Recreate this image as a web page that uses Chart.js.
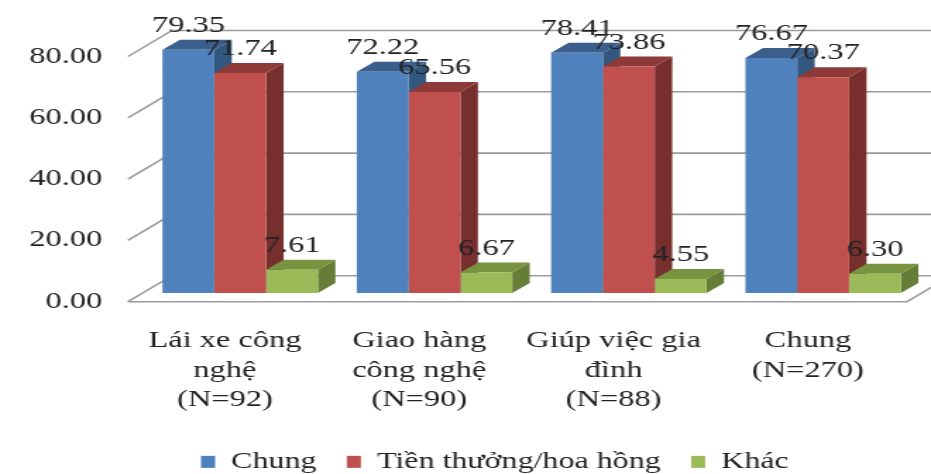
<!DOCTYPE html>
<html>
<head>
<meta charset="utf-8">
<title>Chart</title>
<script src="https://cdn.jsdelivr.net/npm/chart.js@4"></script>
<style>
  html, body { margin: 0; padding: 0; background: #fff; overflow: hidden; }
  /* the whole chart is drawn narrow and widened, so its type comes out broad */
  canvas { display: block; transform-origin: 0 0; transform: scaleX(1.4106); }
</style>
</head>
<body>
<canvas id="barChart3d" width="660" height="474"></canvas>
<script>
const categories = [
    ['Lái xe công', 'nghệ', '(N=92)'],
    ['Giao hàng', 'công nghệ', '(N=90)'],
    ['Giúp việc gia', 'đình', '(N=88)'],
    ['Chung', '(N=270)']
];
const chung = [79.35, 72.22, 78.41, 76.67];
const tienThuong = [71.74, 65.56, 73.86, 70.37];
const khac = [7.61, 6.67, 4.55, 6.30];
const tickValues = [0, 20, 40, 60, 80];

const FONT = '"Liberation Serif", serif';
const TEXT_COLOR = '#222';
const GRID_COLOR = '#9c9c9c';

const LEGEND_FONT = 22.7;
const LEGEND_PADDING = 21.5;
const LEGEND_HEIGHT = LEGEND_FONT + LEGEND_PADDING + 10;

// vertical scale shared by both value axes
const PX_PER_UNIT = 3.065;
const AREA_BOTTOM = 301.7;
const BAR_BASE_OFFSET = 8.7;    // bars stand this far behind the front floor edge

// 3d look, x values in canvas units before the widening
const BAR_DEPTH_X = 12.4;
const BAR_DEPTH_Y = 10;
const WALL_DEPTH_X = 31.2;
const WALL_DEPTH_Y = 26;
const FLOOR_LEFT = 90.7;
const FLOOR_RIGHT = 643;

const faceColors = [
    { top: '#3b5f8c', side: '#33587f' },
    { top: '#8d3a38', side: '#772f2e' },
    { top: '#789441', side: '#667d38' }
];

function fillPoly(ctx, pts, color) {
    ctx.beginPath();
    ctx.moveTo(pts[0][0], pts[0][1]);
    pts.slice(1).forEach(p => ctx.lineTo(p[0], p[1]));
    ctx.closePath();
    ctx.fillStyle = color;
    ctx.fill();
}

const wallPlugin = {
    id: 'wall',
    beforeDatasetsDraw(chart) {
        const ctx = chart.ctx;
        const y = chart.scales.y;
        ctx.save();
        ctx.strokeStyle = GRID_COLOR;
        ctx.lineWidth = 1.6;
        tickValues.forEach(v => {
            const py = y.getPixelForValue(v);
            ctx.beginPath();
            ctx.moveTo(FLOOR_LEFT, py);
            ctx.lineTo(FLOOR_LEFT + WALL_DEPTH_X, py - WALL_DEPTH_Y);
            ctx.lineTo(chart.width, py - WALL_DEPTH_Y);
            ctx.stroke();
        });
        // floor front edge, running back at the right end
        const floorY = y.getPixelForValue(0);
        ctx.beginPath();
        ctx.moveTo(FLOOR_LEFT, floorY);
        ctx.lineTo(FLOOR_RIGHT, floorY);
        ctx.lineTo(FLOOR_RIGHT + WALL_DEPTH_X, floorY - WALL_DEPTH_Y);
        ctx.stroke();
        ctx.restore();

        // top and side faces, the library paints the fronts over them
        chart.data.datasets.forEach((ds, i) => {
            chart.getDatasetMeta(i).data.forEach(bar => {
                const l = bar.x - bar.width / 2;
                const r = bar.x + bar.width / 2;
                fillPoly(ctx, [[r, bar.y], [r + BAR_DEPTH_X, bar.y - BAR_DEPTH_Y],
                    [r + BAR_DEPTH_X, bar.base - BAR_DEPTH_Y], [r, bar.base]], faceColors[i].side);
                fillPoly(ctx, [[l, bar.y], [r, bar.y],
                    [r + BAR_DEPTH_X, bar.y - BAR_DEPTH_Y], [l + BAR_DEPTH_X, bar.y - BAR_DEPTH_Y]], faceColors[i].top);
            });
        });
    },
    afterDatasetsDraw(chart) {
        const ctx = chart.ctx;
        // value labels above every bar
        ctx.save();
        ctx.font = '23px ' + FONT;
        ctx.fillStyle = TEXT_COLOR;
        ctx.textAlign = 'center';
        ctx.textBaseline = 'middle';
        chart.data.datasets.forEach((ds, i) => {
            chart.getDatasetMeta(i).data.forEach((bar, j) => {
                ctx.fillText(ds.data[j].toFixed(2), bar.x, bar.y - 24);
            });
        });
        ctx.restore();
    },
    afterLayout(chart) {
        // legend sits left of centre, under the bars
        chart.legend.left = 121;
        chart.legend.right = 660;
        chart.legend.top = 429;
    }
};

const barChart = new Chart(document.getElementById('barChart3d'), {
    type: 'bar',
    plugins: [wallPlugin],
    data: {
        labels: categories,
        datasets: [
            { label: 'Chung', data: chung, backgroundColor: '#4f81bd', yAxisID: 'yBars', clip: false },
            { label: 'Tiền thưởng/hoa hồng', data: tienThuong, backgroundColor: '#c0504d', yAxisID: 'yBars', clip: false },
            { label: 'Khác', data: khac, backgroundColor: '#9bbb59', yAxisID: 'yBars', clip: false }
        ]
    },
    options: {
        responsive: false,
        animation: false,
        layout: { autoPadding: false, padding: { top: 0, left: 0, bottom: 0, right: 7.6 } },
        datasets: { bar: { categoryPercentage: 0.8, barPercentage: 1 } },
        plugins: {
            title: { display: false },
            tooltip: { enabled: false },
            legend: {
                position: 'bottom',
                align: 'start',
                labels: {
                    boxWidth: 10,
                    boxHeight: 12,
                    padding: LEGEND_PADDING,
                    color: TEXT_COLOR,
                    font: { family: FONT, size: LEGEND_FONT }
                }
            }
        },
        scales: {
            x: {
                grid: { display: false },
                border: { display: false },
                afterFit(scale) { scale.height = 474 - AREA_BOTTOM - LEGEND_HEIGHT; },
                ticks: {
                    autoSkip: false,
                    maxRotation: 0,
                    padding: 16,
                    labelOffset: -10.8,
                    color: TEXT_COLOR,
                    font: { family: FONT, size: 23, lineHeight: 1.3 }
                }
            },
            y: {
                position: 'left',
                min: 0,
                max: 100,
                grid: { display: false },
                border: { display: false },
                afterFit(scale) { scale.width = 101.4; },
                afterBuildTicks(scale) { scale.ticks = tickValues.map(v => ({ value: v })); },
                ticks: {
                    padding: 21,
                    color: TEXT_COLOR,
                    font: { family: FONT, size: 23 },
                    callback: v => v.toFixed(2)
                }
            },
            yBars: {
                display: false,
                min: -BAR_BASE_OFFSET / PX_PER_UNIT,
                max: 100
            }
        }
    }
});

// the value range follows the plot height the layout ended up with
const axisMax = (barChart.chartArea.bottom - barChart.chartArea.top) / PX_PER_UNIT;
barChart.options.scales.y.max = axisMax;
barChart.options.scales.yBars.max = axisMax - BAR_BASE_OFFSET / PX_PER_UNIT;
barChart.update();
</script>
</body>
</html>
